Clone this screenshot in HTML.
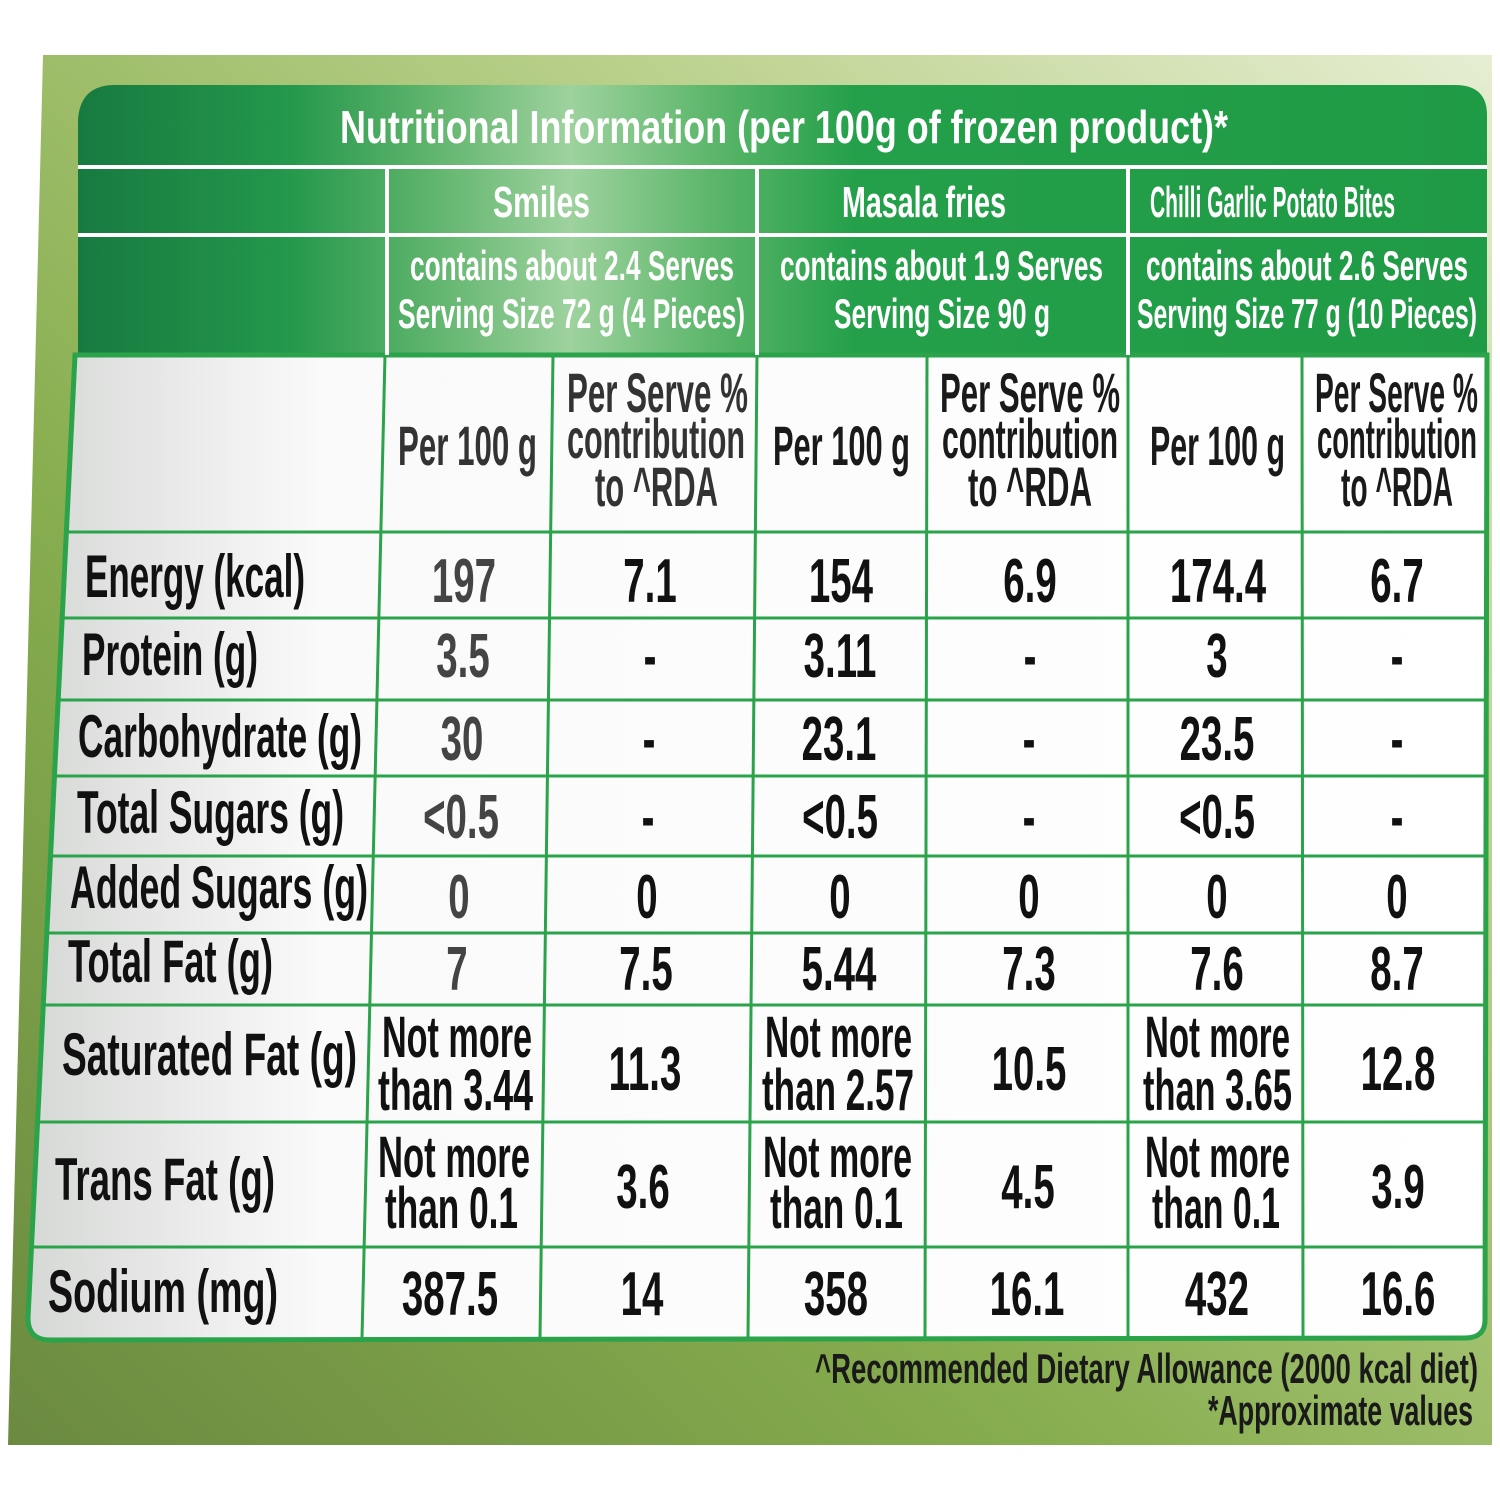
<!DOCTYPE html>
<html><head><meta charset="utf-8"><style>html,body{margin:0;padding:0;background:#fff}svg{display:block}text{font-family:"Liberation Sans",sans-serif}</style></head><body>
<svg width="1500" height="1500" viewBox="0 0 1500 1500" xmlns="http://www.w3.org/2000/svg">
<defs>
<linearGradient id="bg" x1="0" y1="1" x2="1" y2="0">
<stop offset="0" stop-color="#6b8a40"/><stop offset="0.35" stop-color="#86ad4e"/><stop offset="0.7" stop-color="#b9d08a"/><stop offset="1" stop-color="#e6eed2"/></linearGradient>
<linearGradient id="hd" x1="0" y1="0" x2="1" y2="0">
<stop offset="0" stop-color="#177a40"/><stop offset="0.15" stop-color="#24984c"/><stop offset="0.25" stop-color="#5fb46c"/><stop offset="0.35" stop-color="#9ed29e"/><stop offset="0.45" stop-color="#5cb66a"/><stop offset="0.55" stop-color="#25a04a"/><stop offset="1" stop-color="#1f9a45"/></linearGradient>
<linearGradient id="bd" x1="0" y1="0" x2="1" y2="0">
<stop offset="0" stop-color="#d6d8d6"/><stop offset="0.2" stop-color="#fafafa"/><stop offset="1" stop-color="#ffffff"/></linearGradient>
</defs>
<polygon points="43,55 1492,55 1492,1445 8,1445" fill="url(#bg)"/>
<path d="M78,355 L78,120 Q80,85 115,85 L1455,85 Q1487,85 1487,115 L1487,355 Z" fill="url(#hd)"/>
<path d="M75,355 L1487,355 L1485,1320 Q1485,1338 1465,1338 L50,1340 Q28,1340 28,1318 Z" fill="url(#bd)" stroke="#2aa34a" stroke-width="5"/>
<g stroke="#fff" stroke-width="4">
<line x1="78" y1="167" x2="1487" y2="167"/><line x1="78" y1="235" x2="1487" y2="235"/>
<line x1="387" y1="167" x2="387" y2="355"/><line x1="757" y1="167" x2="757" y2="355"/><line x1="1128" y1="167" x2="1128" y2="355"/>
</g>
<g stroke="#2aa34a" stroke-width="3">
<line x1="385" y1="355" x2="362" y2="1338"/><line x1="553" y1="355" x2="540" y2="1338"/><line x1="757" y1="355" x2="748" y2="1338"/>
<line x1="927" y1="355" x2="925" y2="1338"/><line x1="1128" y1="355" x2="1128" y2="1338"/><line x1="1302" y1="355" x2="1303" y2="1338"/>
<line x1="66" y1="532" x2="1487" y2="532"/><line x1="63" y1="618" x2="1487" y2="618"/><line x1="59" y1="700" x2="1487" y2="700"/>
<line x1="56" y1="776" x2="1487" y2="776"/><line x1="52" y1="856" x2="1487" y2="856"/><line x1="48" y1="933" x2="1486" y2="933"/>
<line x1="45" y1="1005" x2="1486" y2="1005"/><line x1="40" y1="1122" x2="1486" y2="1122"/><line x1="34" y1="1247" x2="1485" y2="1247"/>
</g>
<g fill="#fff" font-size="46" font-weight="bold">
<text x="340" y="143" textLength="888" lengthAdjust="spacingAndGlyphs">Nutritional Information (per 100g of frozen product)*</text>
<text x="493" y="217" textLength="97" lengthAdjust="spacingAndGlyphs" font-size="44">Smiles</text>
<text x="842" y="217" textLength="164" lengthAdjust="spacingAndGlyphs" font-size="44">Masala fries</text>
<text x="1150" y="217" textLength="245" lengthAdjust="spacingAndGlyphs" font-size="44">Chilli Garlic Potato Bites</text>
<text x="410" y="280" textLength="324" lengthAdjust="spacingAndGlyphs" font-size="42">contains about 2.4 Serves</text>
<text x="398" y="328" textLength="347" lengthAdjust="spacingAndGlyphs" font-size="42">Serving Size 72 g (4 Pieces)</text>
<text x="780" y="280" textLength="323" lengthAdjust="spacingAndGlyphs" font-size="42">contains about 1.9 Serves</text>
<text x="834" y="328" textLength="216" lengthAdjust="spacingAndGlyphs" font-size="42">Serving Size 90 g</text>
<text x="1146" y="280" textLength="322" lengthAdjust="spacingAndGlyphs" font-size="42">contains about 2.6 Serves</text>
<text x="1137" y="328" textLength="340" lengthAdjust="spacingAndGlyphs" font-size="42">Serving Size 77 g (10 Pieces)</text>
</g>
<g fill="#1a1a1a" font-size="56" font-weight="bold">
<text x="398" y="465" textLength="139" lengthAdjust="spacingAndGlyphs" fill="#333">Per 100 g</text>
<text x="773" y="465" textLength="137" lengthAdjust="spacingAndGlyphs">Per 100 g</text>
<text x="1150" y="465" textLength="135" lengthAdjust="spacingAndGlyphs">Per 100 g</text>
<text x="567" y="412" textLength="181" lengthAdjust="spacingAndGlyphs" fill="#333">Per Serve %</text>
<text x="567" y="458" textLength="178" lengthAdjust="spacingAndGlyphs" fill="#333">contribution</text>
<text x="595" y="506" textLength="123" lengthAdjust="spacingAndGlyphs" fill="#333">to ^RDA</text>
<text x="940" y="412" textLength="180" lengthAdjust="spacingAndGlyphs">Per Serve %</text>
<text x="942" y="458" textLength="176" lengthAdjust="spacingAndGlyphs">contribution</text>
<text x="968" y="506" textLength="124" lengthAdjust="spacingAndGlyphs">to ^RDA</text>
<text x="1315" y="412" textLength="163" lengthAdjust="spacingAndGlyphs">Per Serve %</text>
<text x="1317" y="458" textLength="160" lengthAdjust="spacingAndGlyphs">contribution</text>
<text x="1341" y="506" textLength="112" lengthAdjust="spacingAndGlyphs">to ^RDA</text>
</g>
<g fill="#111" font-size="60" font-weight="bold">
<text x="85" y="597" textLength="220" lengthAdjust="spacingAndGlyphs">Energy (kcal)</text>
<text x="82" y="675" textLength="176" lengthAdjust="spacingAndGlyphs">Protein (g)</text>
<text x="78" y="757" textLength="284" lengthAdjust="spacingAndGlyphs">Carbohydrate (g)</text>
<text x="77" y="833" textLength="267" lengthAdjust="spacingAndGlyphs">Total Sugars (g)</text>
<text x="70" y="908" textLength="298" lengthAdjust="spacingAndGlyphs">Added Sugars (g)</text>
<text x="68" y="982" textLength="205" lengthAdjust="spacingAndGlyphs">Total Fat (g)</text>
<text x="62" y="1075" textLength="295" lengthAdjust="spacingAndGlyphs">Saturated Fat (g)</text>
<text x="55" y="1200" textLength="220" lengthAdjust="spacingAndGlyphs">Trans Fat (g)</text>
<text x="48" y="1312" textLength="230" lengthAdjust="spacingAndGlyphs">Sodium (mg)</text>
</g>
<g fill="#111" font-size="62" text-anchor="middle" font-weight="bold">
<g fill="#444">
<text transform="translate(464,602) scale(0.62,1)">197</text>
<text transform="translate(463,677) scale(0.62,1)">3.5</text>
<text transform="translate(462,760) scale(0.62,1)">30</text>
<text transform="translate(461,838) scale(0.62,1)">&lt;0.5</text>
<text transform="translate(459,918) scale(0.62,1)">0</text>
<text transform="translate(457,990) scale(0.62,1)">7</text>
</g>
<text x="382" y="1057" textLength="150" lengthAdjust="spacingAndGlyphs" text-anchor="start" font-size="58">Not more</text>
<text x="378" y="1110" textLength="155" lengthAdjust="spacingAndGlyphs" text-anchor="start" font-size="58">than 3.44</text>
<text x="378" y="1177" textLength="152" lengthAdjust="spacingAndGlyphs" text-anchor="start" font-size="58">Not more</text>
<text x="385" y="1228" textLength="133" lengthAdjust="spacingAndGlyphs" text-anchor="start" font-size="58">than 0.1</text>
<text transform="translate(450,1315) scale(0.62,1)">387.5</text>

<text transform="translate(650,602) scale(0.62,1)">7.1</text>
<text transform="translate(650,677) scale(0.62,1)">-</text>
<text transform="translate(649,760) scale(0.62,1)">-</text>
<text transform="translate(648,838) scale(0.62,1)">-</text>
<text transform="translate(647,918) scale(0.62,1)">0</text>
<text transform="translate(646,990) scale(0.62,1)">7.5</text>
<text transform="translate(645,1090) scale(0.62,1)">11.3</text>
<text transform="translate(643,1208) scale(0.62,1)">3.6</text>
<text transform="translate(642,1315) scale(0.62,1)">14</text>

<text transform="translate(841,602) scale(0.62,1)">154</text>
<text transform="translate(840,677) scale(0.62,1)">3.11</text>
<text transform="translate(839,760) scale(0.62,1)">23.1</text>
<text transform="translate(840,838) scale(0.62,1)">&lt;0.5</text>
<text transform="translate(840,918) scale(0.62,1)">0</text>
<text transform="translate(839,990) scale(0.62,1)">5.44</text>
<text x="765" y="1057" textLength="147" lengthAdjust="spacingAndGlyphs" text-anchor="start" font-size="58">Not more</text>
<text x="762" y="1110" textLength="152" lengthAdjust="spacingAndGlyphs" text-anchor="start" font-size="58">than 2.57</text>
<text x="763" y="1177" textLength="149" lengthAdjust="spacingAndGlyphs" text-anchor="start" font-size="58">Not more</text>
<text x="770" y="1228" textLength="133" lengthAdjust="spacingAndGlyphs" text-anchor="start" font-size="58">than 0.1</text>
<text transform="translate(836,1315) scale(0.62,1)">358</text>

<text transform="translate(1030,602) scale(0.62,1)">6.9</text>
<text transform="translate(1030,677) scale(0.62,1)">-</text>
<text transform="translate(1029,760) scale(0.62,1)">-</text>
<text transform="translate(1029,838) scale(0.62,1)">-</text>
<text transform="translate(1029,918) scale(0.62,1)">0</text>
<text transform="translate(1029,990) scale(0.62,1)">7.3</text>
<text transform="translate(1029,1090) scale(0.62,1)">10.5</text>
<text transform="translate(1028,1208) scale(0.62,1)">4.5</text>
<text transform="translate(1027,1315) scale(0.62,1)">16.1</text>

<text transform="translate(1218,602) scale(0.62,1)">174.4</text>
<text transform="translate(1217,677) scale(0.62,1)">3</text>
<text transform="translate(1217,760) scale(0.62,1)">23.5</text>
<text transform="translate(1217,838) scale(0.62,1)">&lt;0.5</text>
<text transform="translate(1217,918) scale(0.62,1)">0</text>
<text transform="translate(1217,990) scale(0.62,1)">7.6</text>
<text x="1145" y="1057" textLength="145" lengthAdjust="spacingAndGlyphs" text-anchor="start" font-size="58">Not more</text>
<text x="1143" y="1110" textLength="149" lengthAdjust="spacingAndGlyphs" text-anchor="start" font-size="58">than 3.65</text>
<text x="1145" y="1177" textLength="145" lengthAdjust="spacingAndGlyphs" text-anchor="start" font-size="58">Not more</text>
<text x="1152" y="1228" textLength="128" lengthAdjust="spacingAndGlyphs" text-anchor="start" font-size="58">than 0.1</text>
<text transform="translate(1217,1315) scale(0.62,1)">432</text>

<text transform="translate(1397,602) scale(0.62,1)">6.7</text>
<text transform="translate(1397,677) scale(0.62,1)">-</text>
<text transform="translate(1397,760) scale(0.62,1)">-</text>
<text transform="translate(1397,838) scale(0.62,1)">-</text>
<text transform="translate(1397,918) scale(0.62,1)">0</text>
<text transform="translate(1397,990) scale(0.62,1)">8.7</text>
<text transform="translate(1398,1090) scale(0.62,1)">12.8</text>
<text transform="translate(1398,1208) scale(0.62,1)">3.9</text>
<text transform="translate(1398,1315) scale(0.62,1)">16.6</text>
</g>
<g fill="#1a1a1a" font-size="42" font-weight="bold">
<text x="815" y="1383" textLength="663" lengthAdjust="spacingAndGlyphs">^Recommended Dietary Allowance (2000 kcal diet)</text>
<text x="1208" y="1425" textLength="265" lengthAdjust="spacingAndGlyphs">*Approximate values</text>
</g>
</svg>
</body></html>
